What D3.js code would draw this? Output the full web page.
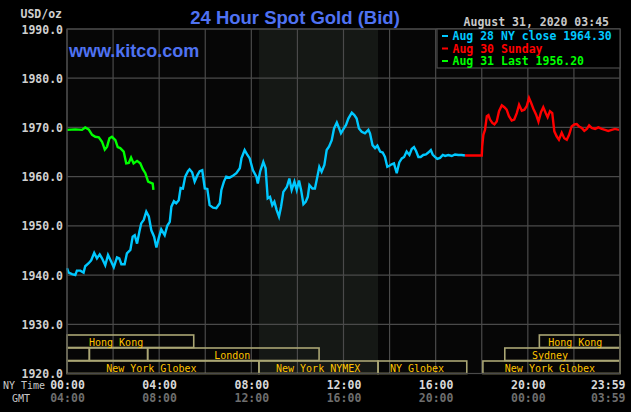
<!DOCTYPE html>
<html>
<head>
<meta charset="utf-8">
<script src="https://cdn.jsdelivr.net/npm/d3@7"></script>
<style>
body { margin: 0; background: #000; }
svg { display: block; }
</style>
</head>
<body>
<svg id="chart" width="631" height="412"></svg>
<script>
// [hour NY time, price]
const aug28 = [[0.00,1941.4],[0.07,1940.5],[0.22,1940.2],[0.36,1940.0],[0.43,1940.9],[0.58,1940.9],[0.72,1940.5],[0.79,1941.8],[0.94,1942.4],[1.05,1943.0],[1.18,1944.5],[1.30,1943.4],[1.42,1944.2],[1.52,1943.4],[1.66,1942.0],[1.78,1944.1],[1.91,1942.8],[2.03,1941.6],[2.17,1943.6],[2.27,1943.4],[2.36,1942.2],[2.50,1942.2],[2.60,1944.4],[2.75,1945.1],[2.85,1947.8],[2.94,1948.1],[3.04,1946.4],[3.14,1948.8],[3.22,1950.5],[3.33,1951.2],[3.44,1952.9],[3.55,1951.9],[3.66,1949.1],[3.78,1947.8],[3.88,1945.6],[3.98,1947.5],[4.09,1949.3],[4.24,1948.1],[4.35,1950.0],[4.46,1950.8],[4.53,1953.9],[4.64,1955.0],[4.74,1954.6],[4.85,1955.2],[4.93,1957.7],[5.03,1957.6],[5.13,1960.0],[5.25,1961.1],[5.32,1961.5],[5.43,1960.9],[5.54,1959.0],[5.66,1960.3],[5.76,1961.1],[5.87,1961.3],[5.98,1957.6],[6.09,1957.5],[6.19,1954.2],[6.34,1953.7],[6.48,1953.6],[6.63,1954.6],[6.70,1957.3],[6.81,1959.0],[6.91,1960.0],[7.06,1959.8],[7.20,1960.2],[7.35,1960.7],[7.50,1961.7],[7.57,1963.7],[7.71,1965.4],[7.83,1964.4],[7.93,1963.7],[8.07,1961.3],[8.22,1960.0],[8.28,1958.6],[8.38,1961.0],[8.52,1963.0],[8.62,1961.7],[8.71,1955.6],[8.81,1955.9],[8.91,1954.2],[9.00,1954.9],[9.10,1953.2],[9.20,1951.9],[9.29,1953.9],[9.39,1956.9],[9.54,1957.9],[9.65,1959.6],[9.75,1957.3],[9.87,1959.0],[9.97,1957.3],[10.07,1959.2],[10.16,1957.3],[10.26,1954.4],[10.36,1954.9],[10.45,1955.9],[10.52,1958.3],[10.65,1957.6],[10.76,1957.6],[10.85,1959.6],[10.95,1962.0],[11.05,1961.0],[11.17,1962.4],[11.27,1965.4],[11.37,1966.1],[11.49,1967.4],[11.59,1969.8],[11.71,1971.0],[11.81,1969.8],[11.89,1968.8],[11.99,1969.6],[12.11,1970.5],[12.21,1971.8],[12.36,1973.0],[12.47,1972.5],[12.57,1971.8],[12.67,1969.8],[12.79,1969.1],[12.93,1968.8],[13.08,1969.5],[13.15,1968.8],[13.26,1966.4],[13.37,1965.8],[13.47,1966.3],[13.59,1965.1],[13.70,1964.9],[13.80,1964.0],[13.90,1962.0],[13.99,1962.2],[14.09,1962.5],[14.19,1962.7],[14.31,1960.7],[14.42,1962.9],[14.53,1963.7],[14.63,1964.0],[14.74,1965.1],[14.86,1964.4],[14.96,1965.6],[15.06,1966.0],[15.15,1965.2],[15.25,1964.0],[15.35,1964.0],[15.46,1964.4],[15.58,1964.5],[15.68,1964.9],[15.79,1965.4],[15.87,1964.5],[15.97,1964.0],[16.07,1963.6],[16.19,1963.8],[16.31,1964.4],[16.41,1964.2],[16.55,1964.4],[16.70,1964.2],[16.84,1964.5],[16.98,1964.4],[17.13,1964.4],[17.27,1964.3]];

const aug30 = [[17.27,1964.3],[18.00,1964.3],[18.02,1966.2],[18.07,1968.5],[18.14,1969.5],[18.22,1972.3],[18.29,1972.5],[18.36,1971.6],[18.46,1970.9],[18.55,1970.6],[18.65,1971.2],[18.75,1973.3],[18.87,1974.5],[18.98,1974.1],[19.08,1973.6],[19.18,1972.3],[19.30,1971.4],[19.41,1971.6],[19.52,1972.9],[19.62,1974.6],[19.74,1973.4],[19.85,1973.6],[19.95,1974.3],[20.05,1976.0],[20.14,1975.0],[20.24,1973.8],[20.36,1972.6],[20.46,1971.2],[20.57,1973.1],[20.67,1974.1],[20.78,1972.9],[20.86,1972.1],[20.96,1973.3],[21.06,1972.9],[21.15,1969.2],[21.25,1968.2],[21.35,1967.5],[21.47,1968.9],[21.58,1967.8],[21.69,1967.5],[21.79,1968.5],[21.90,1970.2],[22.02,1970.6],[22.12,1970.7],[22.22,1970.2],[22.34,1969.9],[22.45,1969.3],[22.56,1969.7],[22.66,1970.4],[22.77,1969.9],[22.92,1969.7],[23.06,1970.0],[23.21,1969.7],[23.35,1969.5],[23.49,1969.3],[23.64,1969.5],[23.78,1969.7],[23.96,1969.5]];

const aug31 = [[0.00,1969.5],[0.36,1969.6],[0.65,1969.5],[0.79,1970.0],[0.94,1969.6],[1.09,1968.5],[1.23,1968.1],[1.38,1968.0],[1.52,1967.1],[1.64,1965.5],[1.74,1966.1],[1.84,1967.8],[1.95,1968.1],[2.10,1967.4],[2.20,1966.0],[2.31,1965.8],[2.46,1965.1],[2.57,1962.7],[2.68,1962.8],[2.78,1963.9],[2.89,1962.7],[3.04,1963.2],[3.18,1962.7],[3.29,1961.5],[3.40,1960.7],[3.52,1959.0],[3.62,1958.8],[3.72,1958.6],[3.75,1957.3]];

const priceTicks = [1920, 1930, 1940, 1950, 1960, 1970, 1980, 1990];
const gridHours = d3.range(0, 25, 2);
const labelHours = [0, 4, 8, 12, 16, 20, 24];
const nyLabels = ["00:00", "04:00", "08:00", "12:00", "16:00", "20:00", "23:59"];
const gmtLabels = ["04:00", "08:00", "12:00", "16:00", "20:00", "00:00", "03:59"];
const nymexHours = [8.33, 13.5];

// trading sessions: row, start, end, name, hour where the label sits
const sessions = [
  {row: 0, start: 0, end: 5.5, name: "Hong Kong", at: 2.13},
  {row: 0, start: 20.5, end: 24, name: "Hong Kong", at: 22.06},
  {row: 1, start: 0, end: 0.97, name: "", at: 0},
  {row: 1, start: 0.97, end: 3.5, name: "", at: 0},
  {row: 1, start: 3.5, end: 10.94, name: "London", at: 7.17},
  {row: 1, start: 19, end: 24, name: "Sydney", at: 20.96},
  {row: 2, start: 0, end: 8.33, name: "New York Globex", at: 3.66},
  {row: 2, start: 8.33, end: 13.5, name: "New York NYMEX", at: 10.9},
  {row: 2, start: 13.5, end: 17.35, name: "NY Globex", at: 15.19},
  {row: 2, start: 18.05, end: 24, name: "New York Globex", at: 20.96}
];

const legendNames = ["Aug 28 NY close 1964.30", "Aug 30 Sunday", "Aug 31 Last 1956.20"];
const legendColors = ["#00c8ff", "#ff0000", "#00ff00"];

const mono = "'DejaVu Sans Mono', monospace";
const sans = "'Liberation Sans', Arial, sans-serif";

const svg = d3.select("#chart");
const x = d3.scaleLinear().domain([0, 24]).range([67, 620]);
const y = d3.scaleLinear().domain([1920, 1990]).range([373.5, 29]);

svg.append("rect").attr("width", 631).attr("height", 412).attr("fill", "#000");
svg.append("rect")
  .attr("x", x(0)).attr("y", y(1990))
  .attr("width", x(24) - x(0)).attr("height", y(1920) - y(1990))
  .attr("fill", "#060606");

// NYMEX shading
svg.append("rect")
  .attr("x", x(nymexHours[0])).attr("y", y(1990))
  .attr("width", x(nymexHours[1]) - x(nymexHours[0]))
  .attr("height", y(1920) - y(1990))
  .attr("fill", "#151815");

// grid
const grid = svg.append("g").attr("stroke", "#4a4a4a").attr("stroke-width", 1.2);
grid.selectAll(".v").data(gridHours).join("line")
  .attr("x1", d => x(d)).attr("x2", d => x(d))
  .attr("y1", y(1990)).attr("y2", y(1920));
grid.selectAll(".h").data(priceTicks).join("line")
  .attr("x1", x(0)).attr("x2", x(24))
  .attr("y1", d => y(d)).attr("y2", d => y(d));

// price labels
const yAxis = svg.append("g")
  .attr("transform", `translate(${x(0) - 4},0)`)
  .call(d3.axisLeft(y).tickValues(priceTicks).tickFormat(d3.format(".1f")).tickSize(0).tickPadding(0));
yAxis.select(".domain").remove();
yAxis.selectAll("text")
  .attr("font-family", mono).attr("font-size", 11.5).attr("font-weight", "bold")
  .attr("fill", "#d0d0d0").attr("dy", 4);

svg.append("text").attr("x", 62).attr("y", 18).attr("text-anchor", "end")
  .attr("font-family", mono).attr("font-size", 11.5).attr("font-weight", "bold")
  .attr("fill", "#d0d0d0").text("USD/oz");

// time labels
function timeRow(labels, yPos, color) {
  const ax = svg.append("g")
    .attr("transform", `translate(0,${yPos})`)
    .call(d3.axisBottom(x).tickValues(labelHours)
      .tickFormat((d, i) => labels[i]).tickSize(0).tickPadding(0));
  ax.select(".domain").remove();
  ax.selectAll("text")
    .attr("y", 0).attr("dy", 0)
    .attr("font-family", mono).attr("font-size", 11.5).attr("font-weight", "bold")
    .attr("fill", color);
  ax.selectAll(".tick").filter(d => d === 24).select("text")
    .attr("text-anchor", "end").attr("dx", 5);
}
timeRow(nyLabels, 389, "#d8d8d8");
timeRow(gmtLabels, 402, "#6e6e6e");

svg.append("text").attr("x", 3).attr("y", 389)
  .attr("font-family", mono).attr("font-size", 10).attr("fill", "#c8c8c8").text("NY Time");
svg.append("text").attr("x", 12).attr("y", 402)
  .attr("font-family", mono).attr("font-size", 10).attr("fill", "#c8c8c8").text("GMT");

// session bars
const rowTop = [335, 348, 361];
const rowH = 12.5;
const bars = svg.append("g");
bars.selectAll("rect").data(sessions).join("rect")
  .attr("x", d => x(d.start)).attr("y", d => rowTop[d.row])
  .attr("width", d => x(d.end) - x(d.start)).attr("height", rowH)
  .attr("fill", "none").attr("stroke", "#aaa674").attr("stroke-width", 1.6);
bars.selectAll("text").data(sessions.filter(d => d.name)).join("text")
  .attr("x", d => x(d.at)).attr("y", d => rowTop[d.row] + 10.5)
  .attr("text-anchor", "middle")
  .attr("font-family", mono).attr("font-size", 10).attr("fill", "#ffc400")
  .text(d => d.name);

// price lines
const line = d3.line().x(d => x(d[0])).y(d => y(d[1]));
[[aug28, legendColors[0]], [aug30, legendColors[1]], [aug31, legendColors[2]]].forEach(([data, color]) => {
  svg.append("path").datum(data)
    .attr("d", line).attr("fill", "none")
    .attr("stroke", color).attr("stroke-width", 2.4)
    .attr("stroke-linejoin", "miter");
});

// plot border
svg.append("rect")
  .attr("x", x(0)).attr("y", y(1990))
  .attr("width", x(24) - x(0)).attr("height", y(1920) - y(1990))
  .attr("fill", "none").attr("stroke", "#4a4a4a").attr("stroke-width", 1.2);

// legend
svg.append("rect").attr("x", 437).attr("y", y(1990))
  .attr("width", x(24) - 437).attr("height", 39)
  .attr("fill", "#000").attr("stroke", "#4a4a4a").attr("stroke-width", 1.2);
const leg = svg.append("g").selectAll("g").data(legendNames).join("g")
  .attr("transform", (d, i) => `translate(442,${40 + i * 12.5})`);
leg.append("rect").attr("x", 0).attr("y", -5).attr("width", 6).attr("height", 2)
  .attr("fill", (d, i) => legendColors[i]);
leg.append("text").attr("x", 10.5)
  .attr("font-family", mono).attr("font-size", 11.5).attr("font-weight", "bold")
  .attr("fill", (d, i) => legendColors[i]).text(d => d);

svg.append("text").attr("x", 609).attr("y", 26).attr("text-anchor", "end")
  .attr("font-family", mono).attr("font-size", 11.5).attr("font-weight", "bold")
  .attr("fill", "#c8c8c8").text("August 31, 2020 03:45");

// titles
svg.append("text").attr("x", 295).attr("y", 24).attr("text-anchor", "middle")
  .attr("font-family", sans).attr("font-size", 18.5).attr("font-weight", "bold")
  .attr("fill", "#4f72f2").text("24 Hour Spot Gold (Bid)");
svg.append("text").attr("x", 69).attr("y", 57)
  .attr("font-family", sans).attr("font-size", 18).attr("font-weight", "bold")
  .attr("fill", "#4f72f2").text("www.kitco.com");
</script>
</body>
</html>
